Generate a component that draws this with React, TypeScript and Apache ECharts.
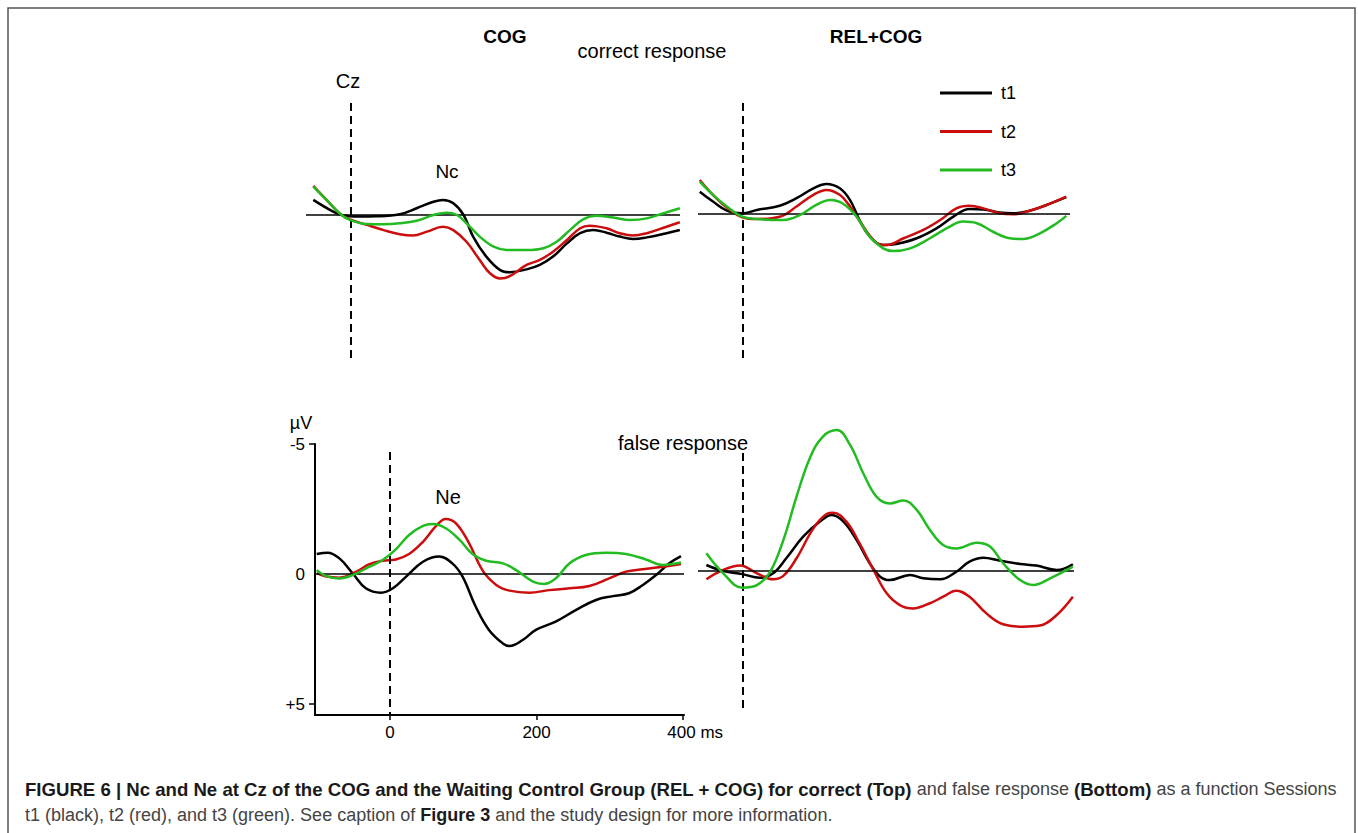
import React, { useEffect, useRef } from 'react';
import * as echarts from 'echarts';

// ---- data (time in ms, amplitude in µV; negative plotted upward) ----
const SESSION_NAMES = ['t1', 't2', 't3'];
const SESSION_COLORS = ['#000000', '#cc0d0d', '#22bb22'];

// COG, correct response (Nc)
const cogCorrectT1: [number, number][] = [[-51,-0.58],[-24,-0.13],[-10,0.02],[10,0.06],[35,0.05],[67,-0.03],[90,-0.26],[113,-0.51],[126,-0.58],[140,-0.45],[154,0],[167,0.83],[185,1.6],[204,2.12],[217,2.2],[240,2.09],[258,1.92],[276,1.6],[295,1.09],[313,0.7],[331,0.58],[349,0.68],[367,0.83],[385,0.92],[404,0.86],[431,0.7],[449,0.58]];
const cogCorrectT2: [number, number][] = [[-51,-1.12],[-33,-0.58],[-15,-0.06],[-1,0.17],[22,0.38],[45,0.58],[67,0.74],[85,0.79],[104,0.64],[126,0.45],[140,0.58],[158,1.03],[176,1.73],[190,2.24],[204,2.44],[217,2.35],[240,1.92],[258,1.73],[276,1.41],[295,0.96],[313,0.51],[326,0.41],[349,0.51],[367,0.7],[385,0.79],[404,0.7],[431,0.45],[449,0.28]];
const cogCorrectT3: [number, number][] = [[-51,-1.09],[-33,-0.58],[-15,-0.06],[-1,0.19],[22,0.35],[45,0.36],[67,0.32],[90,0.22],[113,0],[131,-0.09],[145,0],[158,0.32],[176,0.83],[195,1.22],[213,1.35],[240,1.35],[263,1.28],[281,1.03],[299,0.58],[317,0.17],[335,0.03],[358,0.1],[381,0.19],[404,0.13],[426,-0.06],[449,-0.26]];

// REL+COG, correct response
const relCorrectT1: [number, number][] = [[-58,-0.83],[-40,-0.45],[-21,-0.1],[0,0],[20,-0.13],[51,-0.29],[74,-0.58],[97,-0.96],[115,-1.13],[133,-0.96],[147,-0.51],[160,0.26],[174,0.9],[192,1.22],[210,1.18],[238,0.96],[265,0.58],[288,0.13],[310,-0.17],[329,-0.15],[351,-0.03],[370,0],[392,-0.1],[415,-0.32],[442,-0.62]];
const relCorrectT2: [number, number][] = [[-58,-1.28],[-40,-0.71],[-21,-0.22],[0,0.15],[20,0.22],[51,0.13],[74,-0.26],[97,-0.71],[115,-0.9],[133,-0.71],[147,-0.26],[165,0.51],[183,1.13],[197,1.22],[220,0.96],[247,0.64],[270,0.26],[292,-0.19],[310,-0.29],[329,-0.19],[351,0],[370,0.04],[392,-0.1],[415,-0.32],[442,-0.64]];
const relCorrectT3: [number, number][] = [[-58,-1.22],[-40,-0.71],[-21,-0.26],[0,0.13],[20,0.22],[56,0.26],[79,0.06],[101,-0.32],[120,-0.51],[138,-0.36],[156,0.13],[174,0.9],[192,1.35],[206,1.45],[229,1.35],[256,0.96],[283,0.51],[301,0.32],[320,0.38],[342,0.71],[365,0.96],[383,0.99],[406,0.77],[429,0.38],[442,0.1]];

// COG, false response (Ne)
const cogFalseT1: [number, number][] = [[-100,-0.77],[-85,-0.82],[-69,-0.6],[-51,-0.03],[-33,0.55],[-12,0.72],[4,0.55],[22,0.1],[45,-0.47],[67,-0.67],[85,-0.41],[99,0.1],[117,1.26],[135,2.15],[154,2.67],[163,2.77],[181,2.54],[199,2.15],[226,1.83],[254,1.38],[281,1.0],[304,0.85],[326,0.74],[345,0.42],[363,0.04],[381,-0.41],[397,-0.69]];
const cogFalseT2: [number, number][] = [[-100,-0.03],[-87,0.1],[-69,0.14],[-46,-0.09],[-28,-0.38],[-10,-0.51],[8,-0.56],[26,-0.77],[45,-1.24],[63,-1.85],[76,-2.12],[90,-1.95],[108,-1.18],[126,-0.15],[145,0.42],[163,0.64],[190,0.72],[217,0.62],[245,0.55],[272,0.46],[299,0.17],[322,-0.09],[345,-0.18],[372,-0.28],[397,-0.38]];
const cogFalseT3: [number, number][] = [[-100,-0.15],[-87,0.08],[-69,0.17],[-51,0.04],[-28,-0.28],[-10,-0.54],[8,-0.95],[26,-1.5],[45,-1.85],[58,-1.92],[76,-1.76],[95,-1.31],[113,-0.76],[131,-0.51],[154,-0.41],[172,-0.15],[195,0.29],[210,0.38],[226,0.17],[245,-0.41],[267,-0.73],[295,-0.82],[322,-0.77],[349,-0.56],[372,-0.35],[397,-0.44]];

// REL+COG, false response
const relFalseT1: [number, number][] = [[-49,-0.23],[-26,0],[0,0.12],[24,0.26],[42,0.09],[60,-0.49],[83,-1.32],[106,-1.9],[122,-2.15],[138,-1.9],[156,-1.19],[174,-0.29],[188,0.22],[201,0.35],[229,0.15],[247,0.28],[270,0.32],[292,0.03],[310,-0.36],[329,-0.51],[351,-0.4],[379,-0.27],[401,-0.21],[429,-0.04],[451,-0.26]];
const relFalseT2: [number, number][] = [[-49,0.32],[-26,-0.04],[-3,-0.21],[20,0.09],[42,0.32],[56,0.19],[74,-0.49],[97,-1.64],[115,-2.19],[124,-2.24],[142,-1.9],[160,-1.06],[179,-0.04],[197,0.86],[215,1.31],[233,1.44],[256,1.24],[274,0.99],[292,0.76],[310,0.99],[333,1.63],[356,2.05],[383,2.14],[406,2.1],[429,1.69],[451,0.99]];
const relFalseT3: [number, number][] = [[-49,-0.68],[-26,0.09],[0,0.64],[20,0.54],[38,0.03],[56,-1.19],[74,-2.86],[92,-4.33],[110,-5.17],[129,-5.42],[147,-4.85],[165,-3.76],[183,-2.86],[201,-2.6],[220,-2.71],[238,-2.35],[256,-1.58],[274,-1.0],[292,-0.87],[320,-1.09],[338,-0.94],[356,-0.29],[379,0.35],[397,0.54],[420,0.28],[451,-0.17]];

const X_TICKS = [0, 200, 400];
const Y_TICKS = [-5, 0, 5];

// ---- layout ----
const PX_PER_MS = 0.733;
const PX_PER_UV = 26;
const FONT = '"Liberation Sans", Arial, Helvetica, sans-serif';

type Panel = {
  left: number; right: number; top: number; bottom: number;
  x0: number; y0: number; dash: [number, number]; axes: boolean;
  data: [number, number][][];
};

const PANELS: Panel[] = [
  { left: 306, right: 680, top: 95, bottom: 370, x0: 350.7, y0: 215, dash: [103, 363], axes: false,
    data: [cogCorrectT1, cogCorrectT2, cogCorrectT3] },
  { left: 698, right: 1070, top: 95, bottom: 370, x0: 742.3, y0: 213.3, dash: [103, 363], axes: false,
    data: [relCorrectT1, relCorrectT2, relCorrectT3] },
  { left: 315, right: 684, top: 444, bottom: 715, x0: 390, y0: 574, dash: [452, 715], axes: true,
    data: [cogFalseT1, cogFalseT2, cogFalseT3] },
  { left: 698, right: 1074, top: 420, bottom: 715, x0: 742.3, y0: 571, dash: [453, 712], axes: false,
    data: [relFalseT1, relFalseT2, relFalseT3] },
];

function txt(text: string, x: number, y: number, size: number, bold = false, align = 'center') {
  return {
    type: 'text', x, y, silent: true,
    style: { text, fill: '#000', font: `${bold ? 'bold ' : ''}${size}px ${FONT}`, textAlign: align, textVerticalAlign: 'middle' },
  };
}

function buildOption() {
  const grid: any[] = [];
  const xAxis: any[] = [];
  const yAxis: any[] = [];
  const series: any[] = [];

  PANELS.forEach((p, i) => {
    grid.push({ left: p.left, top: p.top, width: p.right - p.left, height: p.bottom - p.top, containLabel: false, outerBoundsMode: 'none' });
    const xMin = (p.left - p.x0) / PX_PER_MS;
    const xMax = (p.right - p.x0) / PX_PER_MS;
    const yMin = (p.top - p.y0) / PX_PER_UV;
    const yMax = (p.bottom - p.y0) / PX_PER_UV;
    xAxis.push({
      gridIndex: i, type: 'value', min: xMin, max: xMax, show: p.axes,
      splitLine: { show: false },
      axisLine: { show: true, onZero: false, lineStyle: { color: '#000', width: 2 } },
      axisTick: { show: true, customValues: X_TICKS, length: 5, lineStyle: { color: '#000', width: 1.5 } },
      axisLabel: {
        customValues: X_TICKS, margin: 9, color: '#000', fontSize: 17, fontFamily: FONT,
        formatter: (v: number) => (v === 400 ? '{g|}400 ms' : String(v)),
        rich: { g: { width: 24 } },
      },
    });
    yAxis.push({
      gridIndex: i, type: 'value', inverse: true, min: yMin, max: yMax, show: p.axes,
      splitLine: { show: false },
      axisLine: { show: true, onZero: false, lineStyle: { color: '#000', width: 2 } },
      axisTick: { show: true, customValues: [-5, 5], length: 6, lineStyle: { color: '#000', width: 1.5 } },
      axisLabel: {
        customValues: Y_TICKS, margin: 10, color: '#000', fontSize: 17, fontFamily: FONT,
        formatter: (v: number) => (v > 0 ? '+' + v : String(v)),
      },
    });
    p.data.forEach((d, k) => {
      const s: any = {
        name: SESSION_NAMES[k], type: 'line', xAxisIndex: i, yAxisIndex: i,
        data: d, smooth: 0.4, showSymbol: false, symbol: 'none', clip: false,
        color: SESSION_COLORS[k],
        lineStyle: { color: SESSION_COLORS[k], width: 2.5 },
        z: 3 + k,
      };
      if (k === 0) {
        s.markLine = {
          silent: true, symbol: 'none', label: { show: false }, animation: false,
          data: [
            { yAxis: 0, lineStyle: { color: '#000', width: 1.6, type: 'solid' } },
            [
              { coord: [0, (p.dash[0] - p.y0) / PX_PER_UV], lineStyle: { color: '#000', width: 2, type: [8, 5] } },
              { coord: [0, (p.dash[1] - p.y0) / PX_PER_UV] },
            ],
          ],
        };
      }
      series.push(s);
    });
  });

  const cap = {
    b: { fontWeight: 'bold', fill: '#1a1a1a', fontSize: 18, fontFamily: FONT },
    bb: { fontWeight: 'bold', fill: '#1a1a1a', fontSize: 18.6, fontFamily: FONT },
    r: { fill: '#444', fontSize: 18, fontFamily: FONT },
  };

  return {
    animation: false,
    backgroundColor: '#ffffff',
    grid, xAxis, yAxis, series,
    legend: {
      data: SESSION_NAMES, orient: 'vertical', left: 940, top: 84, itemGap: 20.5, padding: 0,
      itemWidth: 52, itemHeight: 3, icon: 'rect', selectedMode: false,
      textStyle: { color: '#000', fontSize: 18, fontFamily: FONT, padding: [0, 0, 0, 4] },
    },
    graphic: [
      { type: 'rect', silent: true, shape: { x: 8, y: 8, width: 1347, height: 900 }, style: { fill: 'none', stroke: '#555', lineWidth: 1.5 } },
      txt('COG', 505, 36, 19, true),
      txt('correct response', 652, 51, 20),
      txt('REL+COG', 876, 36, 19, true),
      txt('Cz', 348, 81, 20),
      txt('Nc', 447, 171, 19),
      txt('µV', 301, 423, 18),
      txt('Ne', 448, 497, 20),
      txt('false response', 683, 443, 20),
      {
        type: 'text', x: 25, y: 789, silent: true,
        style: {
          text: '{bb|FIGURE 6 | Nc and Ne at Cz of the COG and the Waiting Control Group (REL + COG) for correct (Top)}{r| and false response }{bb|(Bottom)}{r| as a function Sessions}',
          rich: cap, textVerticalAlign: 'middle', font: `18px ${FONT}`,
        },
      },
      {
        type: 'text', x: 25, y: 815, silent: true,
        style: {
          text: '{r|t1 (black), t2 (red), and t3 (green). See caption of }{b|Figure 3}{r| and the study design for more information.}',
          rich: cap, textVerticalAlign: 'middle', font: `18px ${FONT}`,
        },
      },
    ],
  };
}

export default function App() {
  const ref = useRef<HTMLDivElement>(null);
  useEffect(() => {
    document.body.style.margin = '0';
    document.body.style.overflow = 'hidden';
    if (!ref.current) return;
    const chart = echarts.init(ref.current, undefined, { renderer: 'svg' });
    chart.setOption(buildOption() as any);
    return () => chart.dispose();
  }, []);
  return <div ref={ref} style={{ width: 1358, height: 833 }} />;
}
